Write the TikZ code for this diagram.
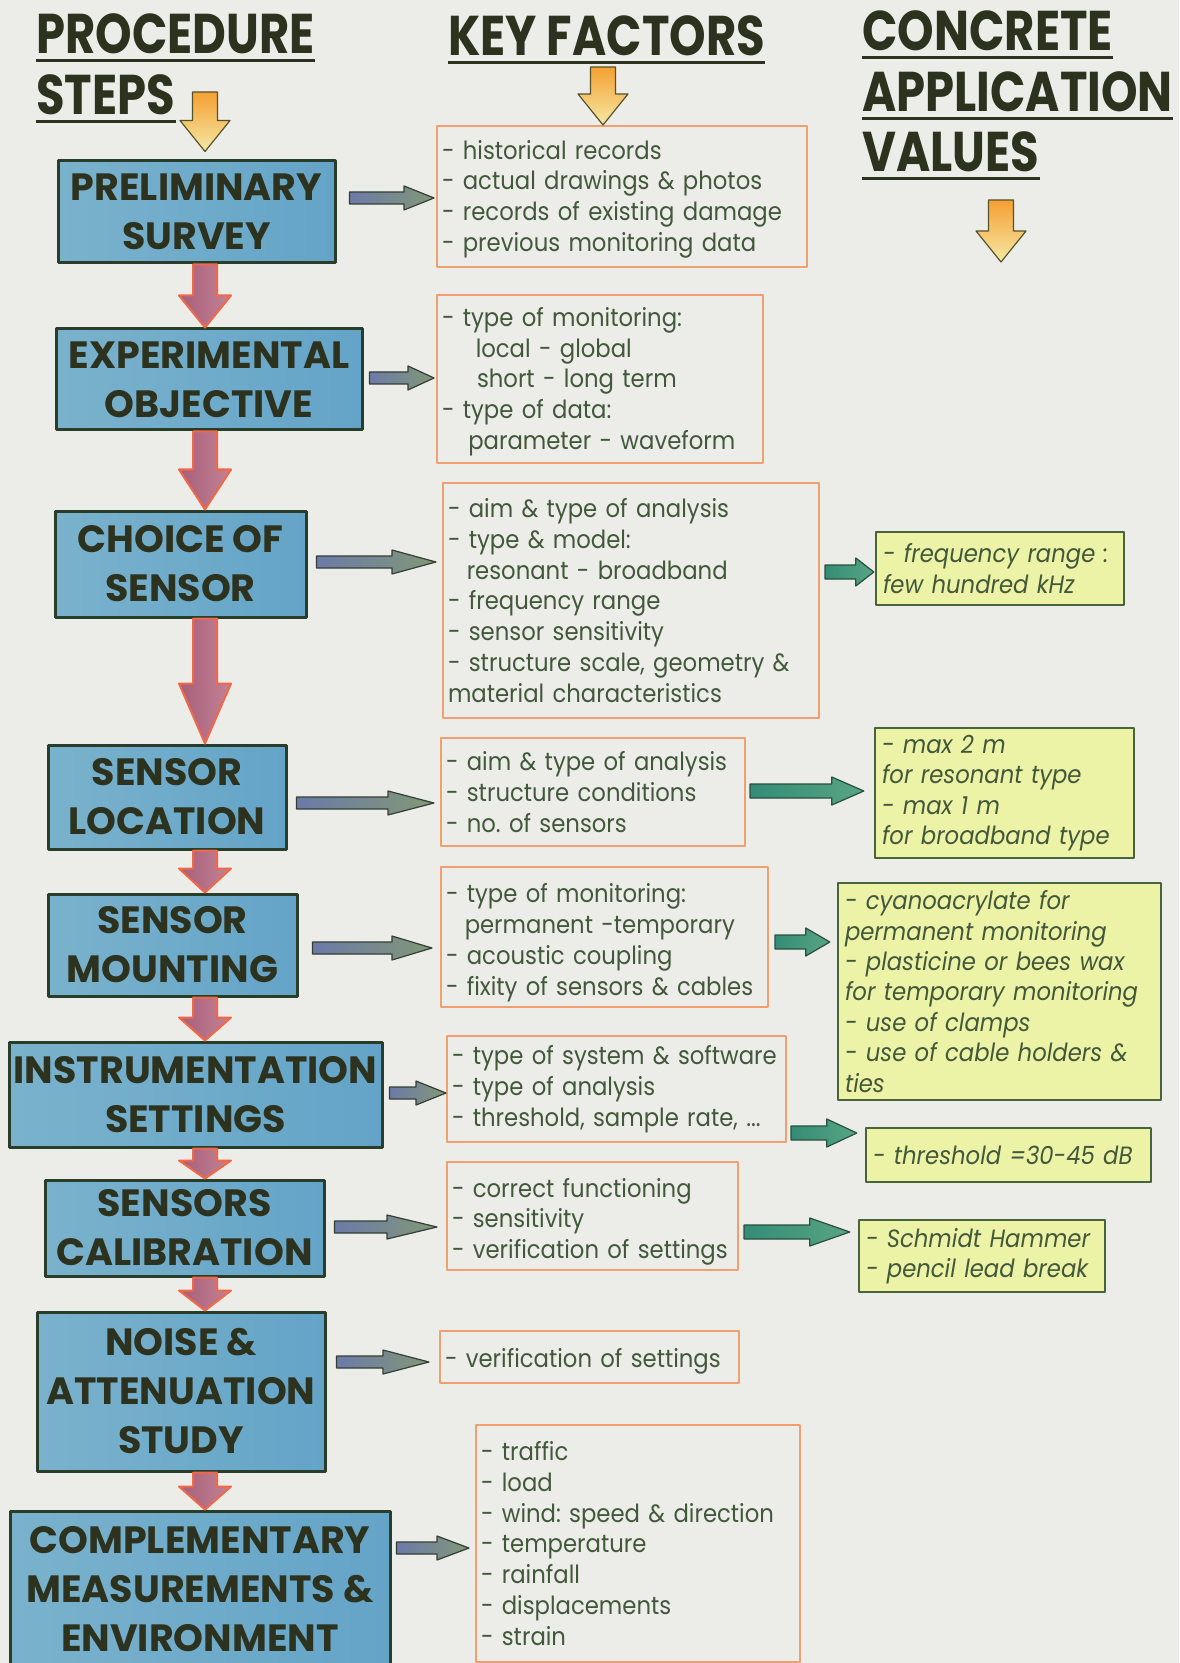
\documentclass[tikz,border=0pt]{standalone}
\usepackage{fontspec}
\setmainfont{Poppins}
\newfontfamily\headfont{Poppins}[FakeStretch=0.83]
\newfontfamily\factfont{Poppins}[FakeStretch=0.91]
\newfontfamily\valfont{Poppins}[FakeStretch=0.91]
\frenchspacing
\usetikzlibrary{calc}

% colours
\definecolor{bgcol}{RGB}{236,236,233}
\definecolor{headtxt}{RGB}{44,50,30}
\definecolor{bodytxt}{RGB}{66,88,58}
\definecolor{stepline}{RGB}{40,62,42}
\definecolor{stepL}{RGB}{122,178,204}
\definecolor{stepM}{RGB}{170,210,205}
\definecolor{stepR}{RGB}{100,164,200}
\definecolor{factline}{RGB}{240,160,112}
\definecolor{valfill}{RGB}{236,242,166}
\definecolor{valline}{RGB}{72,100,60}
\definecolor{redline}{RGB}{240,104,72}
\definecolor{redL}{RGB}{165,95,120}
\definecolor{redR}{RGB}{196,130,150}
\definecolor{orline}{RGB}{84,84,44}
\definecolor{orT}{RGB}{245,160,50}
\definecolor{orB}{RGB}{245,232,165}
\definecolor{blueline}{RGB}{52,62,52}
\definecolor{blueL}{RGB}{108,122,168}
\definecolor{blueM}{RGB}{70,92,160}
\definecolor{blueR}{RGB}{130,152,118}
\definecolor{tealline}{RGB}{40,80,60}
\definecolor{tealL}{RGB}{52,140,118}
\definecolor{tealR}{RGB}{88,165,132}

% block arrow pointing down: style, from, to, half shaft, half head, head length
\newcommand{\vblock}[6]{%
  \path[#1] let \p1=(#2), \p2=(#3) in
    (\x2-#4,\y1) -- (\x2-#4,\y2+#6) -- (\x2-#5,\y2+#6) -- (\x2,\y2)
    -- (\x2+#5,\y2+#6) -- (\x2+#4,\y2+#6) -- (\x2+#4,\y1) -- cycle;}
% block arrow pointing right: style, from, to, half shaft, half head, head length
\newcommand{\hblock}[6]{%
  \path[#1] let \p1=(#2), \p2=(#3) in
    (\x1,\y2-#4) -- (\x2-#6,\y2-#4) -- (\x2-#6,\y2-#5) -- (\x2,\y2)
    -- (\x2-#6,\y2+#5) -- (\x2-#6,\y2+#4) -- (\x1,\y2+#4) -- cycle;}

\begin{document}
\begin{tikzpicture}[x=0.5pt, y=-0.5pt, line join=round]

% ---------------- styles ----------------
\tikzset{
  heading/.style={font=\headfont\bfseries\fontsize{28}{30}\selectfont, text=headtxt, inner sep=0pt, anchor=base west},
  uline/.style={draw=headtxt, line width=1.5pt},
  stepbox/.style={draw=stepline, line width=1.5pt, left color=stepL, middle color=stepM, right color=stepR,
    align=center, inner sep=0pt, text=headtxt, font=\bfseries\fontsize{19}{24.5}\selectfont},
  factbox/.style={draw=factline, line width=1pt, align=left, inner xsep=2.5pt, inner ysep=0pt,
    text=bodytxt, font=\factfont\fontsize{12.5}{15.35}\selectfont},
  valbox/.style={draw=valline, line width=1.2pt, fill=valfill, align=left, inner xsep=3.5pt, inner ysep=0pt,
    text=bodytxt, font=\valfont\itshape\fontsize{12.5}{15.2}\selectfont},
  tshift/.style={execute at begin node={\rule{0pt}{#1}}},
  redarr/.style={draw=redline, line width=1pt, left color=redL, right color=redR},
  orarr/.style={draw=orline, line width=0.6pt, top color=orT, bottom color=orB},
  bluearr/.style={draw=blueline, line width=0.6pt, left color=blueL, middle color=blueM, right color=blueR},
  tealarr/.style={draw=tealline, line width=0.6pt, left color=tealL, right color=tealR}
}

% ---------------- page ----------------
\useasboundingbox (0,0) rectangle (1179,1663);
\fill[bgcol] (0,0) rectangle (1179,1663);
\clip (0,0) rectangle (1179,1663);

% ---------------- column headings ----------------
\node[heading] (hProc) at (36,54) {PROCEDURE};
\node[heading] (hSteps) at (36,115) {STEPS};
\node[heading] (hKey) at (448,56) {KEY FACTORS};
\node[heading] (hConc) at (862,51) {CONCRETE};
\node[heading] (hAppl) at (862,112) {APPLICATION};
\node[heading] (hVal) at (862,172) {VALUES};
\foreach \h in {hProc,hSteps,hKey,hConc,hAppl,hVal}
  \draw[uline] ($(\h.base west)+(0,7)$) -- ($(\h.base east)+(0,7)$);

% ---------------- procedure steps ----------------
\node[stepbox, minimum width=138.5pt, minimum height=51pt] (s1) at (196.5,212) {PRELIMINARY\\SURVEY};
\node[stepbox, minimum width=153pt, minimum height=50.5pt] (s2) at (209,379.5) {EXPERIMENTAL\\OBJECTIVE};
\node[stepbox, minimum width=125.5pt, minimum height=53pt] (s3) at (180.5,564) {CHOICE OF\\SENSOR};
\node[stepbox, minimum width=119pt, minimum height=52pt] (s4) at (167,797) {SENSOR\\LOCATION};
\node[stepbox, minimum width=124.5pt, minimum height=51pt] (s5) at (172.5,945) {SENSOR\\MOUNTING};
\node[stepbox, minimum width=186.5pt, minimum height=52.5pt] (s6) at (195.5,1094.5) {INSTRUMENTATION\\SETTINGS};
\node[stepbox, minimum width=139.5pt, minimum height=48pt] (s7) at (184.5,1228) {SENSORS\\CALIBRATION};
\node[stepbox, minimum width=144pt, minimum height=79.5pt] (s8) at (181,1391.5) {NOISE \&\\ATTENUATION\\STUDY};
\node[stepbox, minimum width=190pt, minimum height=78pt] (s9) at (200,1589) {COMPLEMENTARY\\MEASUREMENTS \&\\ENVIRONMENT};

% ---------------- key factors ----------------
\node[factbox, tshift=12.2pt, text width=180pt, minimum height=70.5pt] (m1) at (622,196.5)
  {- historical records\\- actual drawings \& photos\\- records of existing damage\\- previous monitoring data};
\node[factbox, tshift=12.2pt, text width=158pt, minimum height=84pt] (m2) at (600,379)
  {- type of monitoring:\\\hspace*{1.35em}local - global\\\hspace*{1.4em}short - long term\\- type of data:\\\hspace*{1.05em}parameter - waveform};
\node[factbox, text width=183pt, minimum height=117.5pt] (m3) at (631,600.5)
  {- aim \& type of analysis\\- type \& model:\\\hspace*{0.75em}resonant - broadband\\- frequency range\\- sensor sensitivity\\- structure scale, geometry \&\\material characteristics};
\node[factbox, text width=147pt, minimum height=54pt] (m4) at (593,792)
  {- aim \& type of analysis\\- structure conditions\\- no. of sensors};
\node[factbox, tshift=15.2pt, text width=158.5pt, minimum height=70pt] (m5) at (604.5,937)
  {- type of monitoring:\\\hspace*{0.75em}permanent -temporary\\- acoustic coupling\\- fixity of sensors \& cables};
\node[factbox, text width=164.5pt, minimum height=53pt] (m6) at (616.5,1089)
  {- type of system \& software\\- type of analysis\\- threshold, sample rate, ...};
\node[factbox, tshift=15.2pt, text width=140.5pt, minimum height=54pt] (m7) at (592.5,1216)
  {- correct functioning\\- sensitivity\\- verification of settings};
\node[factbox, tshift=14.2pt, text width=144.5pt, minimum height=26pt] (m8) at (589.5,1357)
  {- verification of settings};
\node[factbox, text width=157pt, minimum height=118.5pt] (m9) at (638,1543.5)
  {- traffic\\- load\\- wind: speed \& direction\\- temperature\\- rainfall\\- displacements\\- strain};

% ---------------- concrete application values ----------------
\node[valbox, text width=117pt, minimum height=36.5pt] (r3) at (1000,568.5)
  {- frequency range :\\few hundred kHz};
\node[valbox, text width=122.5pt, minimum height=65pt] (r4) at (1004.5,793)
  {- max 2 m\\for resonant type\\- max 1 m\\for broadband type};
\node[valbox, text width=154.5pt, minimum height=108.5pt] (r5) at (999.5,991.5)
  {- cyanoacrylate for\\permanent monitoring\\- plasticine or bees wax\\for temporary monitoring\\- use of clamps\\- use of cable holders \&\\ties};
\node[valbox, text width=135.5pt, minimum height=27pt] (r6) at (1008.5,1155)
  {- threshold =30-45 dB};
\node[valbox, text width=116pt, minimum height=36pt] (r7) at (982,1256)
  {- Schmidt Hammer\\- pencil lead break};

% ---------------- orange column arrows ----------------
\coordinate (spine) at (205,0);
\coordinate (oTop1) at (205,92);
\coordinate (oTop2) at (603,67);
\coordinate (oTop3) at (1001,200);
\coordinate (oEnd3) at (1001,262);
\vblock{orarr}{oTop1}{$(s1.north -| spine)+(0,-8)$}{6.25pt}{12.5pt}{15.5pt}
\vblock{orarr}{oTop2}{$(m1.north)+(-19,0)$}{6.25pt}{12.5pt}{15.5pt}
\vblock{orarr}{oTop3}{oEnd3}{6.25pt}{12.5pt}{15.5pt}

% ---------------- step to step ----------------
\vblock{redarr}{s1.south -| spine}{s2.north -| spine}{6pt}{13pt}{16pt}
\vblock{redarr}{s2.south -| spine}{s3.north -| spine}{6pt}{13pt}{20pt}
\vblock{redarr}{s3.south -| spine}{s4.north -| spine}{6pt}{13pt}{30pt}
\vblock{redarr}{s4.south -| spine}{s5.north -| spine}{6pt}{13pt}{12pt}
\vblock{redarr}{s5.south -| spine}{s6.north -| spine}{6pt}{13pt}{11.5pt}
\vblock{redarr}{s6.south -| spine}{s7.north -| spine}{6pt}{13pt}{9pt}
\vblock{redarr}{s7.south -| spine}{s8.north -| spine}{6pt}{13pt}{10pt}
\vblock{redarr}{s8.south -| spine}{s9.north -| spine}{6pt}{13pt}{11.5pt}

% ---------------- step to key factors ----------------
\hblock{bluearr}{$(s1.east)+(13,0)$}{$(m1.west)+(-2,1.5)$}{3pt}{6pt}{15pt}
\hblock{bluearr}{$(s2.east)+(6,0)$}{$(m2.west)+(-2,-1)$}{3pt}{6pt}{13pt}
\hblock{bluearr}{$(s3.east)+(9,0)$}{$(m3.west)+(-6,-38.5)$}{3pt}{6pt}{22pt}
\hblock{bluearr}{$(s4.east)+(9,0)$}{$(m4.west)+(-6,11)$}{3pt}{6pt}{23pt}
\hblock{bluearr}{$(s5.east)+(14,0)$}{$(m5.west)+(-8,11)$}{3pt}{6pt}{20pt}
\hblock{bluearr}{$(s6.east)+(6,0)$}{$(m6.west)+(0,4)$}{3pt}{6pt}{15pt}
\hblock{bluearr}{$(s7.east)+(9,0)$}{$(m7.west)+(-9,11)$}{3pt}{6pt}{25pt}
\hblock{bluearr}{$(s8.east)+(10,0)$}{$(m8.west)+(-10,5)$}{3pt}{6pt}{23pt}
\hblock{bluearr}{$(s9.east)+(5,0)$}{$(m9.west)+(-6,4.5)$}{3pt}{6pt}{16pt}

% ---------------- key factors to values ----------------
\hblock{tealarr}{$(m3.east)+(5,0)$}{$(r3.west)+(-1,3.5)$}{3.5pt}{7pt}{9pt}
\hblock{tealarr}{$(m4.east)+(4,0)$}{$(r4.west)+(-10,-2)$}{3.5pt}{7pt}{16pt}
\hblock{tealarr}{$(m5.east)+(6,0)$}{$(r5.west)+(-7,-49.5)$}{3.5pt}{7pt}{12pt}
\hblock{tealarr}{$(m6.east)+(4,0)$}{$(r6.west)+(-8,-22)$}{3.5pt}{7pt}{15pt}
\hblock{tealarr}{$(m7.east)+(5,0)$}{$(r7.west)+(-8,-24)$}{3.5pt}{7pt}{20pt}

\end{tikzpicture}
\end{document}
